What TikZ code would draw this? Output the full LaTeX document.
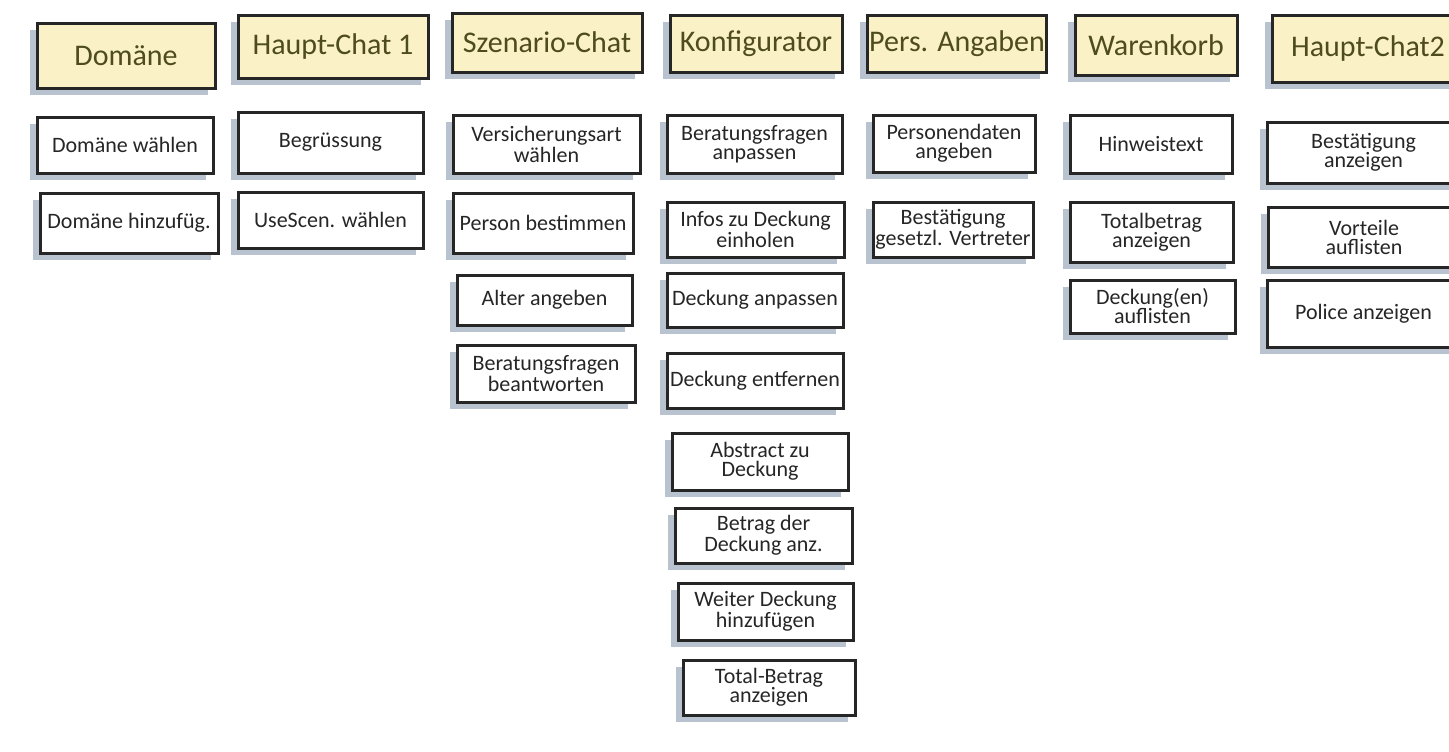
\documentclass[tikz,border=0pt]{standalone}
\usepackage{fontspec}
\setmainfont{Carlito}
\usetikzlibrary{shadows}
\definecolor{hdfill}{HTML}{FAF2C6}
\definecolor{hdtext}{HTML}{4E4B1E}
\definecolor{shad}{HTML}{B9C3D0}
\definecolor{ink}{HTML}{262626}
\begin{document}
\begin{tikzpicture}[x=0.5pt,y=-0.5pt,
  card/.style={draw=ink, line width=1.5pt, fill=white, inner sep=1pt, align=center,
    drop shadow={shadow xshift=-3.5pt, shadow yshift=-3.5pt, fill=shad, opacity=1}},
  head/.style={card, fill=hdfill, text=hdtext, font=\fontsize{15}{15}\selectfont},
  task/.style={card, text=ink, font=\fontsize{11}{9.5}\selectfont}]
\clip (0,0) rectangle (1449,751);
\fill[white] (0,0) rectangle (1449,751);
% headers
\node[head, minimum width=89pt, minimum height=32.5pt] (hd1) at (126,55.5) {Domäne};
\node[head, minimum width=95pt, minimum height=31.5pt] (hd2) at (333,46.5) {Haupt-Chat 1};
\node[head, minimum width=95pt, minimum height=29.5pt] (hd3) at (547,42.5) {Szenario-Chat};
\node[head, minimum width=86pt, minimum height=28.5pt] (hd4) at (756,43.5) {Konfigurator};
\node[head, minimum width=85pt, minimum height=28.5pt] (hd5) at (957,43.5) {Pers. Angaben};
\node[head, minimum width=81pt, minimum height=30pt] (hd6) at (1156,45) {Warenkorb};
\node[head, minimum width=96pt, minimum height=33.5pt] (hd7) at (1368,48.5) {Haupt-Chat2};
% Domäne
\node[task, minimum width=88pt, minimum height=28pt] (t11) at (125,145) {Domäne wählen};
\node[task, minimum width=89pt, minimum height=30pt] (t12) at (129,223) {Domäne hinzufüg.};
% Haupt-Chat 1
\node[task, minimum width=92.5pt, minimum height=30.5pt] (t21) at (330.5,142.5) {Begrüssung};
\node[task, minimum width=92.5pt, minimum height=28pt] (t22) at (330.5,220) {UseScen. wählen};
% Szenario-Chat
\node[task, minimum width=93.5pt, minimum height=29pt] (t31) at (546.5,144) {Versicherungsart\\wählen};
\node[task, minimum width=90pt, minimum height=30pt] (t32) at (543,223) {Person bestimmen};
\node[task, minimum width=87.5pt, minimum height=25pt] (t33) at (544.5,300) {Alter angeben};
\node[task, minimum width=89pt, minimum height=28.5pt] (t34) at (546,373.5) {Beratungsfragen\\beantworten};
% Konfigurator
\node[task, minimum width=87.5pt, minimum height=29pt] (t41) at (754.5,144) {Beratungsfragen\\anpassen};
\node[task, minimum width=88.5pt, minimum height=27.5pt] (t42) at (755.5,229.5) {Infos zu Deckung\\einholen};
\node[task, minimum width=88pt, minimum height=27pt] (t43) at (755,300) {Deckung anpassen};
\node[task, minimum width=88pt, minimum height=27.5pt] (t44) at (755,380.5) {Deckung entfernen};
\node[task, minimum width=88pt, minimum height=28.5pt] (t45) at (760,461.5) {Abstract zu\\Deckung};
\node[task, minimum width=88.5pt, minimum height=27.5pt] (t46) at (763.5,535.5) {Betrag der\\Deckung anz.};
\node[task, minimum width=87.5pt, minimum height=28.5pt] (t47) at (765.5,611.5) {Weiter Deckung\\hinzufügen};
\node[task, minimum width=86pt, minimum height=27.5pt] (t48) at (769,687.5) {Total-Betrag\\anzeigen};
% Pers. Angaben
\node[task, minimum width=81pt, minimum height=28.5pt] (t51) at (954,143.5) {Personendaten\\angeben};
\node[task, minimum width=80pt, minimum height=27.5pt] (t52) at (953,229.5) {Bestätigung\\gesetzl. Vertreter};
% Warenkorb
\node[task, minimum width=81pt, minimum height=29pt] (t61) at (1151,144) {Hinweistext};
\node[task, minimum width=81.5pt, minimum height=30pt] (t62) at (1151.5,232) {Totalbetrag\\anzeigen};
\node[task, minimum width=82.5pt, minimum height=26.5pt] (t63) at (1152.5,306.5) {Deckung(en)\\auflisten};
% Haupt-Chat2
\node[task, minimum width=96.5pt, minimum height=30.5pt] (t71) at (1363.5,152.5) {Bestätigung\\anzeigen};
\node[task, minimum width=96pt, minimum height=30pt] (t72) at (1364,237) {Vorteile\\auflisten};
\node[task, minimum width=96.5pt, minimum height=33.5pt] (t73) at (1363.5,313.5) {Police anzeigen};
\end{tikzpicture}
\end{document}
